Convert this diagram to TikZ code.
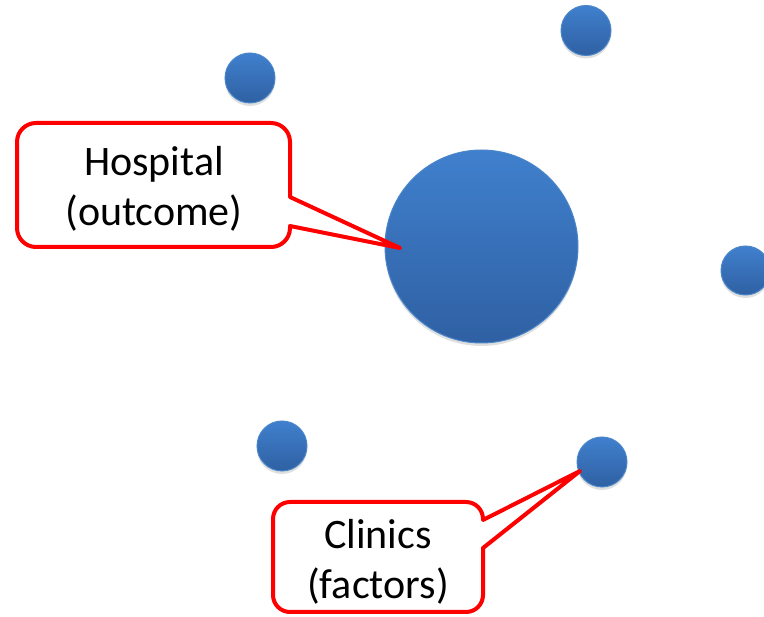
\documentclass[tikz,border=0pt]{standalone}
\usepackage{fontspec}
\setmainfont{Carlito}
\usetikzlibrary{shadows}
\definecolor{ctop}{RGB}{64,128,205}
\definecolor{cbot}{RGB}{47,96,163}
\definecolor{cedge}{RGB}{74,134,202}
\definecolor{cred}{RGB}{255,0,0}
\begin{document}
\begin{tikzpicture}[x=1pt,y=-1pt,
  dot/.style={circle,inner sep=0pt,minimum size=#1,top color=ctop,bottom color=cbot,draw=cedge,line width=1pt,
    drop shadow={opacity=0.25,shadow xshift=0pt,shadow yshift=-3pt}},
  callout/.style={draw=cred,line width=4pt,fill=white,line join=round,
    drop shadow={opacity=0.2,shadow xshift=1pt,shadow yshift=-2pt}},
  lbl/.style={font=\fontsize{42}{50}\selectfont,align=center,inner sep=0pt}]
\useasboundingbox (0,0) rectangle (764,617);
\node[dot=193pt] (hub) at (481.5,246.5) {};
\node[dot=50pt] (c1) at (586,30.5) {};
\node[dot=50pt] (c2) at (250,78) {};
\node[dot=49pt] (c3) at (745.5,270.5) {};
\node[dot=50pt] (c4) at (282,446) {};
\node[dot=50pt] (c5) at (602,462) {};
\coordinate (tipH) at (400,248);
\coordinate (tipC) at (580,471);
\draw[callout] (290,226) [rounded corners=19pt] -- (290,247) -- (17,247) -- (17,123) -- (290,123) [sharp corners] -- (290,197) -- (tipH) -- cycle;
\draw[callout] (483,548) [rounded corners=17pt] -- (483,612) -- (273,612) -- (273,502) -- (483,502) [sharp corners] -- (483,520) -- (tipC) -- cycle;
\node[lbl] (hosp) at (154,189) {Hospital\\(outcome)};
\node[lbl] (clin) at (378,562) {Clinics\\(factors)};
\end{tikzpicture}
\end{document}
